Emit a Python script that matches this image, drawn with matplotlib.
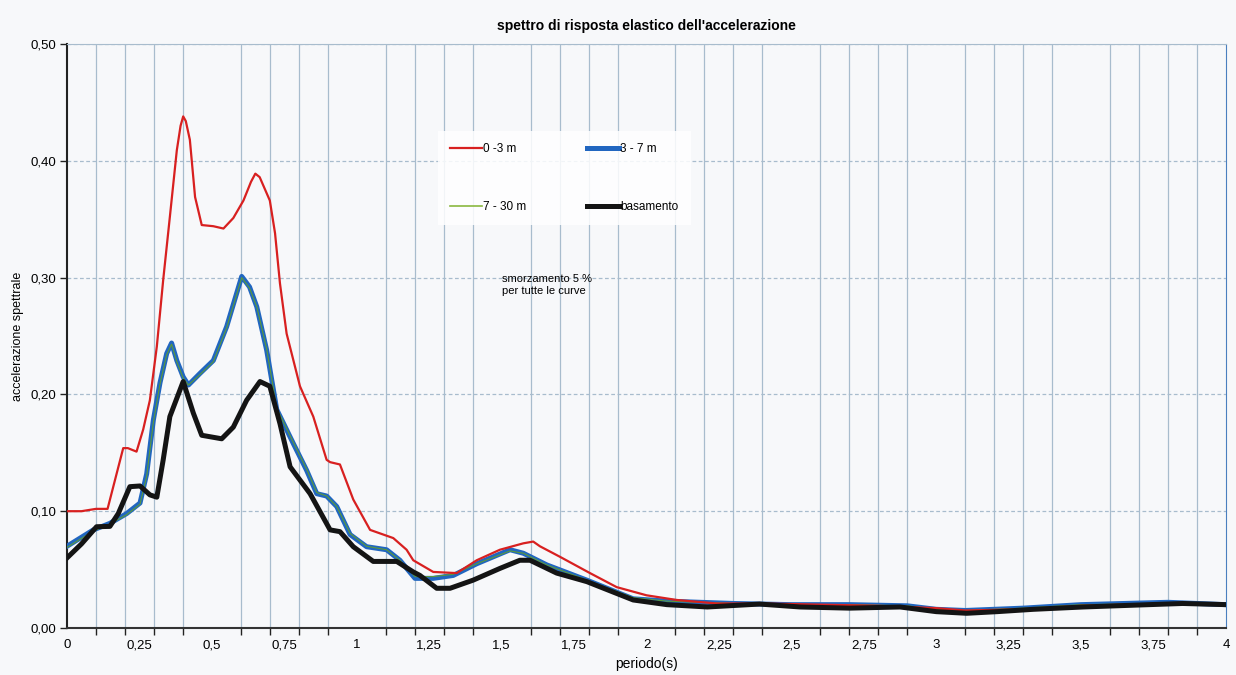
import matplotlib.pyplot as plt
from matplotlib.ticker import FixedLocator, FuncFormatter
from matplotlib.lines import Line2D

plt.rcParams['font.family'] = ['Liberation Sans', 'DejaVu Sans']

# dati: periodo (s) e accelerazione spettrale (g)
per_rosso = [0, 0.05, 0.1, 0.14, 0.194, 0.21, 0.24, 0.263, 0.286, 0.31, 0.332, 0.355, 0.379,
             0.392, 0.401, 0.41, 0.424, 0.442, 0.465, 0.505, 0.54, 0.574, 0.609, 0.635, 0.65,
             0.665, 0.70, 0.718, 0.735, 0.758, 0.804, 0.85, 0.896, 0.908, 0.942, 0.988, 1.046,
             1.126, 1.172, 1.195, 1.264, 1.345, 1.414, 1.494, 1.575, 1.609, 1.632, 1.701, 1.805,
             1.897, 2.0, 2.104, 2.242, 2.4, 2.6, 2.8, 3.0, 3.1, 3.3, 3.5, 3.8, 4.0]
acc_rosso = [0.100, 0.100, 0.102, 0.102, 0.154, 0.154, 0.151, 0.170, 0.195, 0.241, 0.298, 0.352,
             0.409, 0.430, 0.438, 0.434, 0.418, 0.369, 0.345, 0.344, 0.342, 0.351, 0.366, 0.382,
             0.389, 0.386, 0.366, 0.338, 0.295, 0.252, 0.207, 0.181, 0.144, 0.142, 0.140, 0.110,
             0.084, 0.077, 0.067, 0.058, 0.048, 0.047, 0.058, 0.067, 0.0725, 0.074, 0.070, 0.061,
             0.047, 0.035, 0.028, 0.024, 0.021, 0.021, 0.020, 0.019, 0.017, 0.015, 0.016, 0.019,
             0.021, 0.020]

per_blu = [0, 0.091, 0.148, 0.206, 0.252, 0.275, 0.298, 0.321, 0.344, 0.361, 0.379, 0.401, 0.419,
           0.459, 0.505, 0.551, 0.603, 0.63, 0.655, 0.689, 0.724, 0.781, 0.827, 0.862, 0.896,
           0.931, 0.977, 1.034, 1.103, 1.149, 1.201, 1.264, 1.333, 1.414, 1.529, 1.575, 1.656,
           1.794, 1.954, 2.07, 2.30, 2.5, 2.7, 2.9, 3.0, 3.1, 3.3, 3.5, 3.8, 4.0]
acc_blu = [0.070, 0.084, 0.0896, 0.098, 0.107, 0.132, 0.178, 0.210, 0.235, 0.244, 0.229, 0.215,
           0.208, 0.218, 0.229, 0.258, 0.301, 0.292, 0.275, 0.238, 0.187, 0.158, 0.135, 0.115,
           0.113, 0.104, 0.080, 0.0696, 0.067, 0.058, 0.0425, 0.0425, 0.045, 0.055, 0.067, 0.064,
           0.054, 0.041, 0.025, 0.023, 0.021, 0.020, 0.020, 0.019, 0.016, 0.015, 0.017, 0.020,
           0.022, 0.020]

per_verde = [0, 0.091, 0.148, 0.206, 0.252, 0.275, 0.298, 0.321, 0.344, 0.361, 0.379, 0.401, 0.419,
             0.459, 0.505, 0.551, 0.603, 0.63, 0.655, 0.689, 0.724, 0.781, 0.827, 0.862, 0.896,
             0.931, 0.977, 1.034, 1.103, 1.149, 1.201, 1.264, 1.333, 1.414, 1.529, 1.575, 1.656,
             1.794, 1.954, 2.07, 2.30, 2.5, 2.7, 2.9, 3.0, 3.1, 3.3, 3.5, 3.8, 4.0]
acc_verde = [0.069, 0.083, 0.089, 0.097, 0.106, 0.130, 0.176, 0.209, 0.234, 0.243, 0.228, 0.214,
             0.208, 0.217, 0.228, 0.257, 0.300, 0.291, 0.275, 0.239, 0.188, 0.159, 0.136, 0.116,
             0.113, 0.104, 0.081, 0.070, 0.067, 0.058, 0.044, 0.044, 0.046, 0.055, 0.066, 0.064,
             0.054, 0.041, 0.026, 0.023, 0.021, 0.020, 0.020, 0.019, 0.016, 0.015, 0.017, 0.020,
             0.021, 0.020]

per_nero = [0, 0.05, 0.102, 0.148, 0.177, 0.217, 0.252, 0.286, 0.31, 0.332, 0.355, 0.401, 0.436,
            0.465, 0.534, 0.574, 0.62, 0.666, 0.70, 0.735, 0.77, 0.839, 0.908, 0.942, 0.988,
            1.057, 1.138, 1.195, 1.218, 1.276, 1.322, 1.402, 1.494, 1.563, 1.598, 1.69, 1.794,
            1.954, 2.07, 2.21, 2.39, 2.53, 2.70, 2.875, 3.0, 3.105, 3.21, 3.335, 3.507, 3.70,
            3.85, 4.0]
acc_nero = [0.060, 0.072, 0.0867, 0.087, 0.098, 0.121, 0.1216, 0.114, 0.112, 0.144, 0.181, 0.211,
            0.184, 0.165, 0.162, 0.172, 0.195, 0.211, 0.207, 0.175, 0.138, 0.115, 0.084, 0.0825,
            0.0696, 0.057, 0.057, 0.048, 0.045, 0.034, 0.034, 0.041, 0.051, 0.058, 0.058, 0.047,
            0.0397, 0.024, 0.020, 0.018, 0.0205, 0.018, 0.017, 0.018, 0.014, 0.0126, 0.014, 0.016,
            0.018, 0.0197, 0.021, 0.020]

sfondo = '#f7f8fa'
col_griglia = '#a8bccd'

fig = plt.figure(figsize=(12.36, 6.75), dpi=100, facecolor=sfondo)
ax = fig.add_axes([67 / 1236, 1 - 628 / 675, (1226 - 67) / 1236, (628 - 44) / 675])
ax.set_facecolor(sfondo)

ax.plot(per_blu, acc_blu, color='#2166c0', lw=3.6, solid_joinstyle='round', zorder=3)
ax.plot(per_verde, acc_verde, color='#5c9a3a', lw=0.8, zorder=4)
ax.plot(per_rosso, acc_rosso, color='#d82020', lw=1.6, zorder=5)
ax.plot(per_nero, acc_nero, color='#141414', lw=3.6, solid_joinstyle='round', zorder=6)

ax.set_xlim(0, 4)
ax.set_ylim(0, 0.5)

# griglia verticale ogni 0,1 s, etichette ogni 0,25 s
ax.xaxis.set_minor_locator(FixedLocator([i / 10 for i in range(41)]))
ax.xaxis.set_major_locator(FixedLocator([i / 4 for i in range(17)]))
ax.xaxis.set_major_formatter(FuncFormatter(lambda v, p: ('%g' % v).replace('.', ',')))
ax.tick_params(axis='x', which='major', length=0, pad=8, labelsize=9.5)
ax.tick_params(axis='x', which='minor', length=5, width=1, color='#222222', direction='out')
ax.grid(True, axis='x', which='minor', color=col_griglia, lw=0.9)

ax.yaxis.set_major_locator(FixedLocator([0, 0.1, 0.2, 0.3, 0.4, 0.5]))
ax.yaxis.set_major_formatter(FuncFormatter(lambda v, p: ('%.2f' % v).replace('.', ',')))
ax.tick_params(axis='y', length=5, width=1, color='#222222', labelsize=9.5, pad=3)
ax.grid(True, axis='y', which='major', color=col_griglia, lw=0.9, ls=(0, (3, 2)))
ax.set_axisbelow(True)

ax.spines['left'].set_color('#222222')
ax.spines['left'].set_linewidth(1.5)
ax.spines['bottom'].set_color('#333333')
ax.spines['bottom'].set_linewidth(1.5)
ax.spines['right'].set_color('#4a7fbf')
ax.spines['top'].set_color(col_griglia)
ax.spines['top'].set_linewidth(0.8)

ax.set_title("spettro di risposta elastico dell'accelerazione", fontsize=10, fontweight='bold', pad=10)
ax.set_xlabel('periodo(s)', fontsize=10, labelpad=4)
ax.set_ylabel('accelerazione spettrale', fontsize=9, labelpad=4)

maniglie = [Line2D([], [], color='#d82020', lw=1.6),
            Line2D([], [], color='#8ab840', lw=1.2),
            Line2D([], [], color='#2166c0', lw=3.6),
            Line2D([], [], color='#141414', lw=3.6)]
etichette = ['0 -3 m', '7 - 30 m', '3 - 7 m', 'basamento']
leg = ax.legend(maniglie, etichette, ncol=2, loc='upper left',
                bbox_to_anchor=(432 / 1236, 1 - 125 / 675), bbox_transform=fig.transFigure,
                fontsize=8.5, handlelength=2.7, handletextpad=0.1, columnspacing=5.2,
                labelspacing=3.9, borderpad=1.0, frameon=True, fancybox=False)
leg.get_frame().set_facecolor('white')
leg.get_frame().set_edgecolor('none')
leg.get_frame().set_alpha(0.85)

ax.text(1.5, 0.303, 'smorzamento 5 %\nper tutte le curve', fontsize=8, va='top', ha='left',
        linespacing=1.3)

plt.savefig('out.png', dpi=100, facecolor=sfondo)
